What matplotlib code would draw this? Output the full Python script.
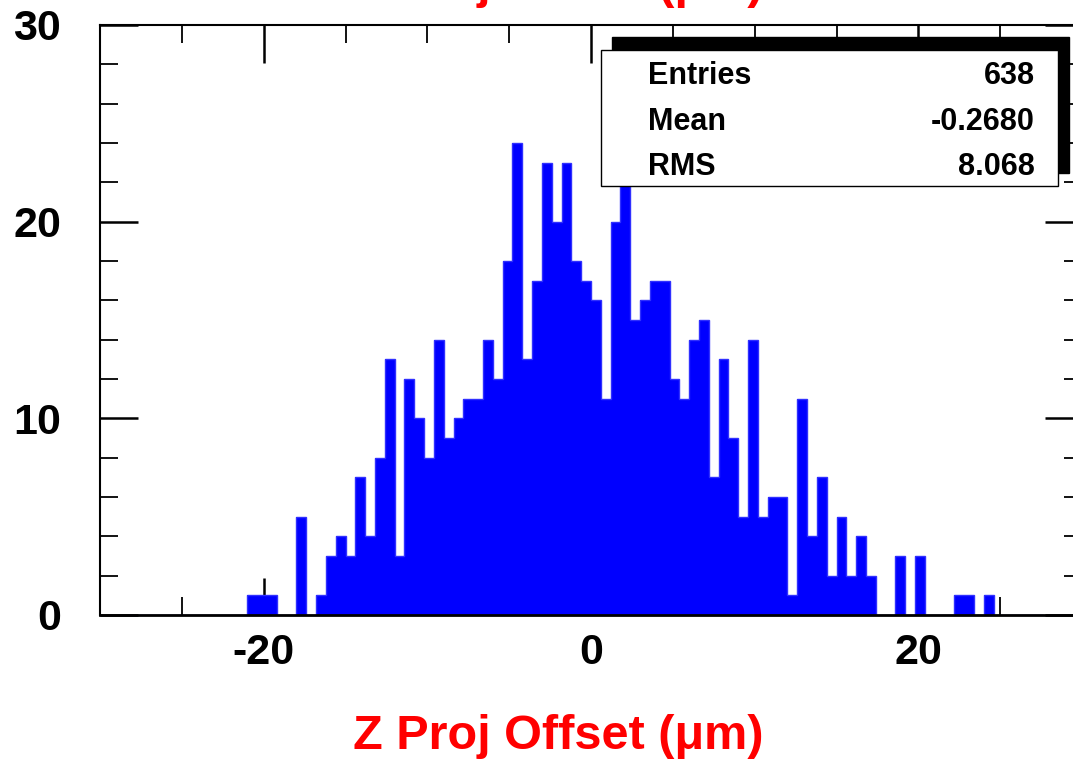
import numpy as np
import matplotlib
matplotlib.use("Agg")
import matplotlib.pyplot as plt
from matplotlib.patches import Rectangle
from matplotlib.ticker import MultipleLocator

plt.rcParams['font.family'] = ['Liberation Sans', 'DejaVu Sans']
plt.rcParams['font.weight'] = 'bold'
plt.rcParams['axes.unicode_minus'] = False

# histogram: 92 bins from -27.6 to 27.6 (bin width 0.6 um)
x_lo, x_hi, n_bins = -27.6, 27.6, 92
counts = [0, 0, 0, 0, 0, 0, 0, 0, 0, 0,
          0, 1, 1, 1, 0, 0, 5, 0, 1, 3,
          4, 3, 7, 4, 8, 13, 3, 12, 10, 8,
          14, 9, 10, 11, 11, 14, 12, 18, 24, 13,
          17, 23, 20, 23, 18, 17, 16, 11, 20, 23,
          15, 16, 17, 17, 12, 11, 14, 15, 7, 13,
          9, 5, 14, 5, 6, 6, 1, 11, 4, 7,
          2, 5, 2, 4, 2, 0, 0, 3, 0, 3,
          0, 0, 0, 1, 1, 0, 1, 0, 0, 0,
          0, 0]

# stats box
stat_names = ["Entries", "Mean", "RMS"]
stat_values = ["638", "-0.2680", "8.068"]

title = "Z Proj Offset (\u03bcm)"

W, H = 1073, 759
fig = plt.figure(figsize=(W / 100, H / 100), dpi=100)
ax = fig.add_axes([100 / W, 1 - 615 / H, 982 / W, 590 / H])

edges = np.linspace(x_lo, x_hi, n_bins + 1)
ax.stairs(counts, edges, fill=True, color='#0000ff', zorder=2)
ax.stairs(counts, edges, fill=False, color='#3030ff', lw=1.0, baseline=0, zorder=2)

ax.set_xlim(-30, 30)
ax.set_ylim(0, 30)
ax.xaxis.set_major_locator(MultipleLocator(20))
ax.xaxis.set_minor_locator(MultipleLocator(5))
ax.yaxis.set_major_locator(MultipleLocator(10))
ax.yaxis.set_minor_locator(MultipleLocator(2))
ax.tick_params(which='both', direction='in', top=True, right=True, colors='black')
ax.tick_params(which='major', length=27, width=1.8, labelsize=31)
ax.tick_params(which='minor', length=13, width=1.3)
ax.tick_params(axis='x', which='major', pad=13)
ax.tick_params(axis='y', which='major', pad=28)
for lab in ax.get_xticklabels() + ax.get_yticklabels():
    lab.set_fontweight('bold')
for s in ax.spines.values():
    s.set_linewidth(1.5)
ax.spines['bottom'].set_linewidth(2.0)
ax.spines['bottom'].set_zorder(3)

# axis title and (clipped) top title
fig.text(558 / W, 10 / H, title, color='red', fontsize=35, fontweight='bold',
         ha='center', va='baseline')
fig.text(558 / W, 1 + 2 / H, title, color='red', fontsize=35, fontweight='bold',
         ha='center', va='baseline')

# stats box with shadow
bw, bh = 457 / W, 136 / H
fig.add_artist(Rectangle((612 / W, 1 - 173 / H), bw, bh, transform=fig.transFigure,
                         facecolor='black', edgecolor='black', zorder=5))
fig.add_artist(Rectangle((601 / W, 1 - 186 / H), bw, bh, transform=fig.transFigure,
                         facecolor='white', edgecolor='black', lw=1.0, zorder=6))
for i, (name, val) in enumerate(zip(stat_names, stat_values)):
    yb = 1 - (84 + 45.5 * i) / H
    fig.text(648 / W, yb, name, fontsize=22, fontweight='bold', ha='left',
             va='baseline', zorder=7)
    fig.text(1035 / W, yb, val, fontsize=22, fontweight='bold', ha='right',
             va='baseline', zorder=7)

fig.savefig("out.png", dpi=100)
